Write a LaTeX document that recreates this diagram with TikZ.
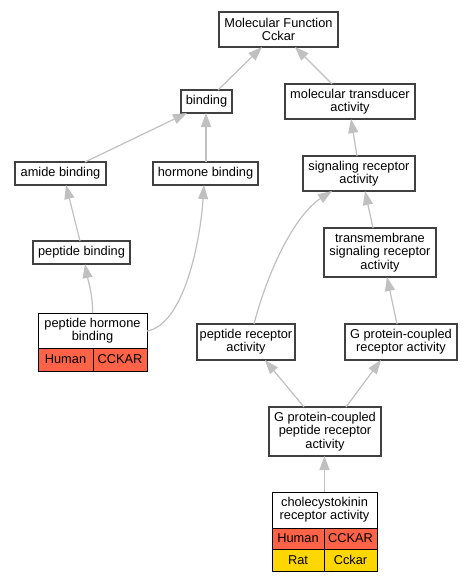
\documentclass[tikz,border=0pt]{standalone}
\usepackage{fontspec}
\setmainfont{Liberation Sans}
\usetikzlibrary{arrows.meta}
\definecolor{boxgray}{RGB}{64,64,64}
\definecolor{edgegray}{RGB}{192,192,192}
\definecolor{tomatoc}{RGB}{255,99,71}
\definecolor{goldc}{RGB}{255,215,0}
\begin{document}
\begin{tikzpicture}[x=1pt,y=-1pt,
  every node/.style={font=\fontsize{12.8}{13.3}\selectfont, align=center, inner sep=0pt, outer sep=0pt},
  gobox/.style={draw=boxgray, line width=1.3pt, fill=white},
  tabtitle/.style={draw=black, line width=0.9pt, fill=white},
  humcell/.style={draw=black, line width=0.9pt, fill=tomatoc},
  ratcell/.style={draw=black, line width=0.9pt, fill=goldc},
  edge/.style={draw=edgegray, line width=1.2pt, -{Triangle[length=14pt,width=10pt]}}
]
\useasboundingbox (0,0) rectangle (473,581);
\fill[white] (0,0) rectangle (473,581);

\node[gobox, minimum width=119pt, minimum height=35pt] (mf) at (278.5,29.5) {Molecular Function\\Cckar};
\node[gobox, minimum width=51pt, minimum height=23pt] (bind) at (206.5,101.5) {binding};
\node[gobox, minimum width=130pt, minimum height=35pt] (mtd) at (350,101.5) {molecular transducer\\activity};
\node[gobox, minimum width=91pt, minimum height=23pt] (amide) at (60.5,173.5) {amide binding};
\node[gobox, minimum width=105pt, minimum height=23pt] (horm) at (205.5,173.5) {hormone binding};
\node[gobox, minimum width=112pt, minimum height=35pt] (sig) at (359,173.5) {signaling receptor\\activity};
\node[gobox, minimum width=97pt, minimum height=23pt] (pb) at (81.5,252.5) {peptide binding};
\node[gobox, minimum width=112pt, minimum height=49pt] (tm) at (380,252.5) {transmembrane\\signaling receptor\\activity};
\node[gobox, minimum width=98pt, minimum height=36pt] (pra) at (246,342) {peptide receptor\\activity};
\node[gobox, minimum width=112pt, minimum height=36pt] (gpcr) at (401,342) {G protein-coupled\\receptor activity};
\node[gobox, minimum width=112pt, minimum height=49pt] (gpcpr) at (325,431.5) {G protein-coupled\\peptide receptor\\activity};

% peptide hormone binding table
\node[tabtitle, minimum width=109pt, minimum height=35pt] (phb) at (92.5,330.5) {peptide hormone\\binding};
\node[humcell, minimum width=55pt, minimum height=23pt] (phbh) at (65.5,359.5) {Human};
\node[humcell, minimum width=54pt, minimum height=23pt] (phbc) at (120,359.5) {CCKAR};

% cholecystokinin receptor activity table
\node[tabtitle, minimum width=105pt, minimum height=36pt] (cck) at (324.5,510) {cholecystokinin\\receptor activity};
\node[humcell, minimum width=52pt, minimum height=21pt] (cckh) at (298,538.5) {Human};
\node[humcell, minimum width=53pt, minimum height=21pt] (cckc) at (350.5,538.5) {CCKAR};
\node[ratcell, minimum width=52pt, minimum height=22pt] (cckr) at (298,560) {Rat};
\node[ratcell, minimum width=53pt, minimum height=22pt] (cckk) at (350.5,560) {Cckar};

% edges
\draw[edge] ([xshift=11.5pt]bind.north) -- ([xshift=-16.5pt]mf.south);
\draw[edge] ([xshift=-18pt]mtd.north) -- ([xshift=16.5pt]mf.south);
\draw[edge] ([xshift=24.5pt]amide.north) -- ([xshift=-19.5pt]bind.south);
\draw[edge] ([xshift=0.5pt]horm.north) -- ([xshift=-0.5pt]bind.south);
\draw[edge] ([xshift=-2pt]sig.north) -- ([xshift=1pt]mtd.south);
\draw[edge] ([xshift=-1.5pt]pb.north) -- ([xshift=5.5pt]amide.south);
\draw[edge] (phb.north) .. controls (93,295) and (88,280) .. ([xshift=3.5pt]pb.south);
\draw[edge] ([yshift=-0.5pt]phb.east) .. controls (183,325) and (200,245) .. ([xshift=-1.5pt]horm.south);
\draw[edge] ([xshift=-7pt]tm.north) -- ([xshift=6pt]sig.south);
\draw[edge] ([xshift=8pt]pra.north) .. controls (268,270) and (295,215) .. ([xshift=-27pt]sig.south);
\draw[edge] ([xshift=-4pt]gpcr.north) -- ([xshift=7pt]tm.south);
\draw[edge] ([xshift=-21pt]gpcpr.north) -- ([xshift=19pt]pra.south);
\draw[edge] ([xshift=21pt]gpcpr.north) -- ([xshift=-20pt]gpcr.south);
\draw[edge] (cck.north) -- ([xshift=-0.5pt]gpcpr.south);
\end{tikzpicture}
\end{document}
